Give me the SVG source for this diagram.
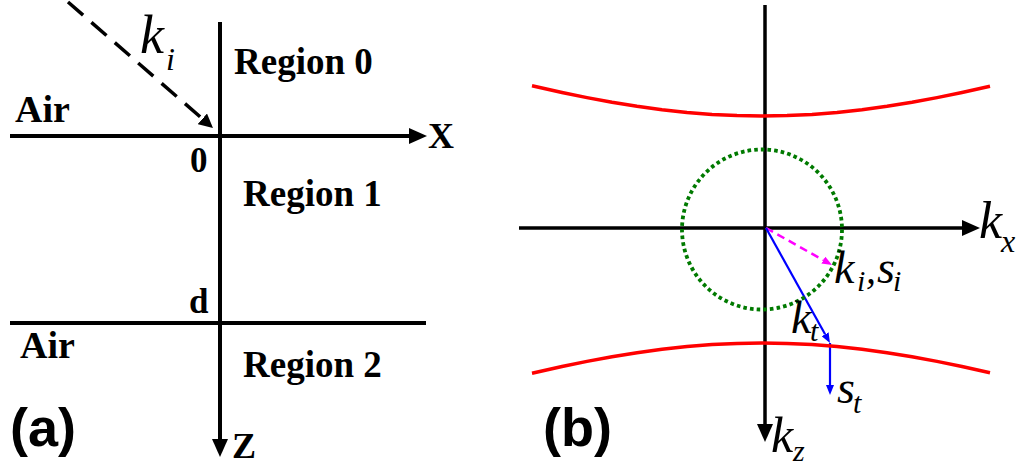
<svg xmlns="http://www.w3.org/2000/svg" width="1021" height="468" viewBox="0 0 1021 468">
<style>
.bg{fill:#ffffff}
.ax{stroke:#000;stroke-width:4;fill:none}
.axb{stroke:#000;stroke-width:3.5;fill:none}
.lbl{font-family:"Liberation Serif","Times New Roman",serif;font-weight:bold;fill:#000}
.mth{font-family:"Liberation Serif","Times New Roman",serif;font-style:italic;fill:#000}
.tag{font-family:"Liberation Sans",Arial,sans-serif;font-weight:bold;font-size:54px;fill:#000}
.red{stroke:#ff0000;stroke-width:3.5;fill:none;stroke-linejoin:round}
.circ{stroke:#007a00;stroke-width:3.8;fill:none;stroke-dasharray:3.6 3.1}
</style>
<defs>
<marker id="arrBlack" viewBox="0 0 18 16" refX="0" refY="8" markerWidth="18" markerHeight="16" markerUnits="userSpaceOnUse" orient="auto"><path d="M0,0 L18,8 L0,16 z" fill="#000"/></marker>
<marker id="arrDash" viewBox="0 0 14 14" refX="0" refY="7" markerWidth="14" markerHeight="14" markerUnits="userSpaceOnUse" orient="auto"><path d="M0,0 L14,7 L0,14 z" fill="#000"/></marker>
<marker id="arrBlue" viewBox="0 0 10 8" refX="0" refY="4" markerWidth="10" markerHeight="8" markerUnits="userSpaceOnUse" orient="auto"><path d="M0,0 L10,4 L0,8 z" fill="#0000ff"/></marker>
<marker id="arrMag" viewBox="0 0 10 8" refX="0" refY="4" markerWidth="10" markerHeight="8" markerUnits="userSpaceOnUse" orient="auto"><path d="M0,0 L10,4 L0,8 z" fill="#ff00ff"/></marker>
</defs>
<rect class="bg" x="0" y="0" width="1021" height="468"/>

<g id="connectors">
  <!-- panel a -->
  <line class="ax" x1="10" y1="136" x2="409" y2="136" marker-end="url(#arrBlack)"/>
  <line class="ax" x1="220" y1="22" x2="220" y2="439" marker-end="url(#arrBlack)"/>
  <line class="ax" x1="10" y1="323" x2="426" y2="323"/>
  <line x1="68" y1="2" x2="202.4" y2="118.8" stroke="#000" stroke-width="3.5" stroke-dasharray="20 11" marker-end="url(#arrDash)"/>
  <!-- panel b -->
  <line class="axb" x1="519" y1="228" x2="962" y2="228" marker-end="url(#arrBlack)"/>
  <line class="axb" x1="765" y1="5" x2="765" y2="424" marker-end="url(#arrBlack)"/>
  <line x1="766" y1="228" x2="823.3" y2="260.1" stroke="#ff00ff" stroke-width="2.5" stroke-dasharray="8 5" marker-end="url(#arrMag)"/>
  <line x1="766" y1="228" x2="825.1" y2="334.3" stroke="#0000ff" stroke-width="2.2" marker-end="url(#arrBlue)"/>
  <line x1="830" y1="343" x2="830" y2="385" stroke="#0000ff" stroke-width="2.2" marker-end="url(#arrBlue)"/>
</g>

<g id="panel-a-labels">
  <g id="label-ki-a"><text class="mth" x="140" y="53" font-size="54">k</text><text class="mth" x="166" y="70" font-size="32">i</text></g>
  <g id="region0"><text class="lbl" x="234" y="74" font-size="37">Region 0</text></g>
  <g id="region1"><text class="lbl" x="243" y="206" font-size="37">Region 1</text></g>
  <g id="region2"><text class="lbl" x="243" y="377" font-size="37">Region 2</text></g>
  <g id="air-top"><text class="lbl" x="15" y="122" font-size="38">Air</text></g>
  <g id="air-bottom"><text class="lbl" x="20" y="358" font-size="38">Air</text></g>
  <g id="origin0"><text class="lbl" x="190" y="172" font-size="35">0</text></g>
  <g id="depth-d"><text class="lbl" x="189" y="313" font-size="35">d</text></g>
  <g id="axis-x"><text class="lbl" x="428" y="148" font-size="36">X</text></g>
  <g id="axis-z"><text class="lbl" x="232" y="458" font-size="36">Z</text></g>
  <g id="tag-a"><text class="tag" x="10" y="446">(a)</text></g>
</g>

<g id="panel-b">
  <g id="hyperbola-top"><path class="red" d="M532,85.8 L562,92.5 L587,97.6 L612,102.3 L637,106.3 L662,109.7 L687,112.4 L712,114.4 L737,115.6 L762,116 L787,115.6 L812,114.4 L837,112.4 L862,109.7 L887,106.3 L912,102.3 L937,97.6 L962,92.5 L990,86.2"/></g>
  <g id="hyperbola-bottom"><path class="red" d="M532,373.2 L562,366.5 L587,361.4 L612,356.7 L637,352.7 L662,349.3 L687,346.6 L712,344.6 L737,343.4 L762,343 L787,343.4 L812,344.6 L837,346.6 L862,349.3 L887,352.7 L912,356.7 L937,361.4 L962,366.5 L990,372.8"/></g>
  <g id="circle"><circle class="circ" cx="762" cy="229.5" r="80"/></g>
  <g id="label-kx"><text class="mth" x="979" y="238" font-size="52">k</text><text class="mth" x="1001" y="252" font-size="32">x</text></g>
  <g id="label-kz"><text class="mth" x="771" y="452" font-size="50">k</text><text class="mth" x="793" y="461" font-size="30">z</text></g>
  <g id="label-kisi"><text class="mth" x="834" y="283" font-size="46">k</text><text class="mth" x="857" y="291" font-size="30">i</text><text class="mth" x="866" y="283" font-size="40">,</text><text class="mth" x="877" y="283" font-size="46">s</text><text class="mth" x="893" y="291" font-size="30">i</text></g>
  <g id="label-kt"><text class="mth" x="791" y="333" font-size="46">k</text><text class="mth" x="810" y="341" font-size="30">t</text></g>
  <g id="label-st"><text class="mth" x="837" y="403" font-size="46">s</text><text class="mth" x="853" y="413" font-size="30">t</text></g>
  <g id="tag-b"><text class="tag" x="543" y="446">(b)</text></g>
</g>
</svg>
